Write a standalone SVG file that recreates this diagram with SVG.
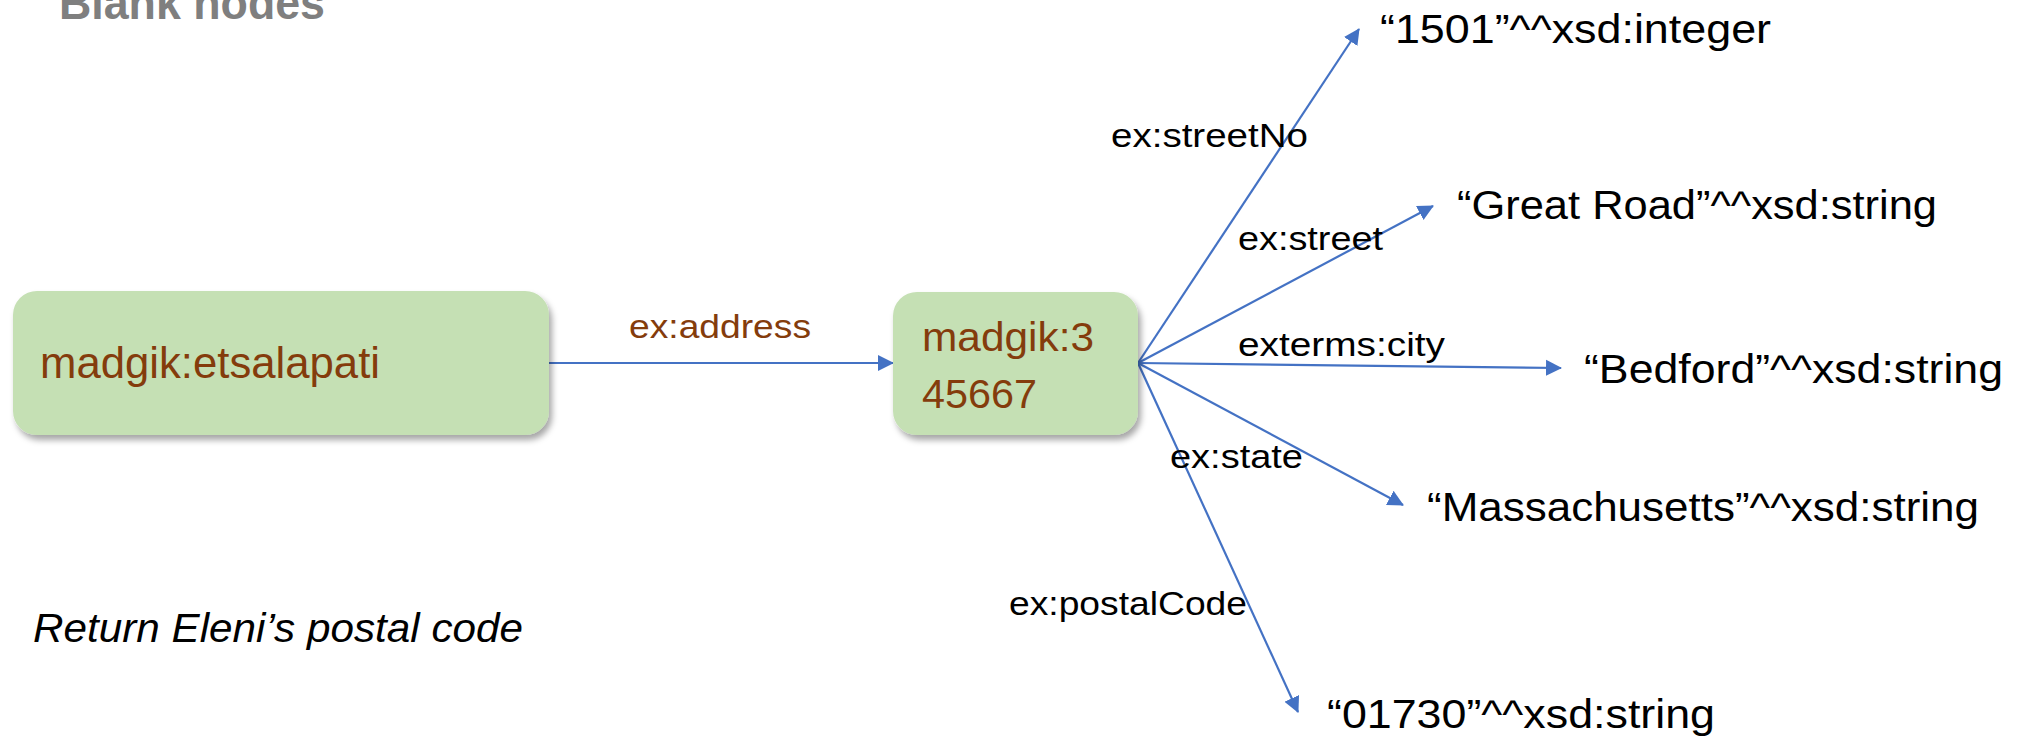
<svg xmlns="http://www.w3.org/2000/svg" width="2026" height="738" viewBox="0 0 2026 738">
<defs>
<style>
.node{fill:#c5e0b4;filter:url(#sh);}
.ntxt{font-family:"Liberation Sans",Arial,sans-serif;fill:#843c0c;}
.lbl{font-family:"Liberation Sans",Arial,sans-serif;font-size:34px;fill:#000;}
.lit{font-family:"Liberation Sans",Arial,sans-serif;font-size:40px;fill:#000;}
.edge{stroke:#4472c4;stroke-width:2.2;fill:none;marker-end:url(#ah);}
</style>
<marker id="ah" markerUnits="userSpaceOnUse" markerWidth="18" markerHeight="18" refX="15" refY="8" orient="auto" viewBox="0 0 18 16">
<path d="M0,0 L16,8 L0,16 z" fill="#4472c4"/>
</marker>
<filter id="sh" x="-10%" y="-10%" width="125%" height="130%">
<feDropShadow dx="3" dy="5" stdDeviation="3" flood-color="#000" flood-opacity="0.35"/>
</filter>
</defs>
<rect width="2026" height="738" fill="#fff"/>
<text id="title" x="59" y="19" font-family="Liberation Sans,Arial,sans-serif" font-weight="bold" font-size="47" fill="#7f7f7f" textLength="266" lengthAdjust="spacingAndGlyphs">Blank nodes</text>
<g id="connectors">
<line class="edge" x1="549" y1="363" x2="893" y2="363"/>
<line class="edge" x1="1138" y1="363" x2="1359" y2="29"/>
<line class="edge" x1="1138" y1="363" x2="1433" y2="206"/>
<line class="edge" x1="1138" y1="363" x2="1561" y2="368"/>
<line class="edge" x1="1138" y1="363" x2="1403" y2="505"/>
<line class="edge" x1="1138" y1="363" x2="1298" y2="712"/>
<text class="lbl" x="629" y="338" style="fill:#843c0c" textLength="182" lengthAdjust="spacingAndGlyphs">ex:address</text>
<text class="lbl" x="1111" y="147" textLength="197" lengthAdjust="spacingAndGlyphs">ex:streetNo</text>
<text class="lbl" x="1238" y="250" textLength="145" lengthAdjust="spacingAndGlyphs">ex:street</text>
<text class="lbl" x="1238" y="356" textLength="207" lengthAdjust="spacingAndGlyphs">exterms:city</text>
<text class="lbl" x="1170" y="468" textLength="133" lengthAdjust="spacingAndGlyphs">ex:state</text>
<text class="lbl" x="1009" y="615" textLength="238" lengthAdjust="spacingAndGlyphs">ex:postalCode</text>
</g>
<g id="node-etsalapati">
<rect class="node" x="13" y="291" width="536" height="144" rx="24" ry="24"/>
<text class="ntxt" x="40" y="378" font-size="45" textLength="340" lengthAdjust="spacingAndGlyphs">madgik:etsalapati</text>
</g>
<g id="node-345667">
<rect class="node" x="893" y="292" width="245" height="143" rx="24" ry="24"/>
<text class="ntxt" x="922" y="351" font-size="40" textLength="172" lengthAdjust="spacingAndGlyphs">madgik:3</text>
<text class="ntxt" x="922" y="408" font-size="40" textLength="115" lengthAdjust="spacingAndGlyphs">45667</text>
</g>
<g id="lit-streetNo"><text class="lit" x="1380" y="43" textLength="391" lengthAdjust="spacingAndGlyphs">“1501”^^xsd:integer</text></g>
<g id="lit-street"><text class="lit" x="1457" y="219" textLength="480" lengthAdjust="spacingAndGlyphs">“Great Road”^^xsd:string</text></g>
<g id="lit-city"><text class="lit" x="1584" y="383" textLength="419" lengthAdjust="spacingAndGlyphs">“Bedford”^^xsd:string</text></g>
<g id="lit-state"><text class="lit" x="1427" y="521" textLength="552" lengthAdjust="spacingAndGlyphs">“Massachusetts”^^xsd:string</text></g>
<g id="lit-postal"><text class="lit" x="1327" y="728" textLength="388" lengthAdjust="spacingAndGlyphs">“01730”^^xsd:string</text></g>
<text id="query" x="33" y="642" font-family="Liberation Sans,Arial,sans-serif" font-style="italic" font-size="40" fill="#000" textLength="490" lengthAdjust="spacingAndGlyphs">Return Eleni’s postal code</text>
</svg>
